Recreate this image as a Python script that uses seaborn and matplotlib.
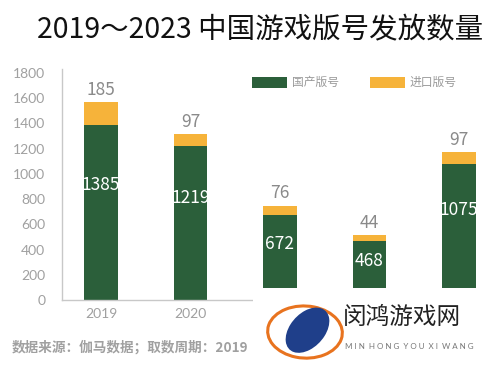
import matplotlib
matplotlib.use("Agg")
import matplotlib.pyplot as plt
from matplotlib.patches import Rectangle, Ellipse
import pandas as pd
import seaborn as sns

# data
years = ["2019", "2020", "2021", "2022", "2023"]
domestic = [1385, 1219, 672, 468, 1075]
imported = [185, 97, 76, 44, 97]
series_names = ["国产版号", "进口版号"]

GREEN = "#2b5f3a"
ORANGE = "#f6b33a"
GREY = "#9a9a9a"

sns.set_theme(style="white")
plt.rcParams['font.family'] = ['Noto Sans CJK SC', 'DejaVu Sans']

df = pd.DataFrame({"year": years, "domestic": domestic, "imported": imported})
df["total"] = df["domestic"] + df["imported"]

fig = plt.figure(figsize=(5.0, 3.71), dpi=100)
ax = fig.add_axes([0.124, 0.1914, 0.872, 0.6226])

sns.barplot(data=df, x="year", y="total", color=ORANGE, width=0.37,
            saturation=1, linewidth=0, ax=ax, label=series_names[1])
sns.barplot(data=df, x="year", y="domestic", color=GREEN, width=0.37,
            saturation=1, linewidth=0, ax=ax, label=series_names[0])

ax.set_xlim(-0.436, 4.436)
ax.set_ylim(0, 1830)
ax.set_yticks(range(0, 1801, 200))
ax.set_xlabel("")
ax.set_ylabel("")
ax.tick_params(axis="both", length=0, colors="#a0a0a0", labelsize=10)
ax.tick_params(axis="y", pad=12)
ax.tick_params(axis="x", pad=6)
for lbl in ax.get_yticklabels() + ax.get_xticklabels():
    lbl.set_family(["Lato", "DejaVu Sans"])
# the last three year labels sit under the watermark in the reference
for lbl in ax.get_xticklabels()[2:]:
    lbl.set_visible(False)
for s in ["top", "right"]:
    ax.spines[s].set_visible(False)
for s in ["left", "bottom"]:
    ax.spines[s].set_color("#c8c8c8")
    ax.spines[s].set_linewidth(1.0)

# value labels
for i, (d, im, t) in enumerate(zip(domestic, imported, df["total"])):
    ax.text(i, d * 0.66, str(d), ha="center", va="center", color="white", fontsize=12.5)
    ax.text(i, t + 25, str(im), ha="center", va="bottom", color="#8a8a8a", fontsize=12.5)

# legend
handles, labels = ax.get_legend_handles_labels()
leg = ax.legend(handles[::-1], labels[::-1], loc="center right", ncol=2, frameon=False,
                bbox_to_anchor=(0.93, 0.94), fontsize=8.5, handlelength=3.0,
                handleheight=1.1, columnspacing=2.6, handletextpad=0.4)
for txt in leg.get_texts():
    txt.set_color(GREY)

fig.text(0.52, 0.918, "2019～2023 中国游戏版号发放数量", ha="center", va="center",
         fontsize=20.5, fontweight="medium", color="#111111")
fig.text(0.024, 0.063, "数据来源：伽马数据；取数周期：2019", ha="left", va="center",
         fontsize=9.8, fontweight="bold", color="#a0a0a0")

# watermark block over the lower right
fig.patches.append(Rectangle((0.505, 0.0), 0.495, 0.225, transform=fig.transFigure,
                             facecolor="white", edgecolor="none", zorder=5))
fig.patches.append(Ellipse((0.61, 0.105), 0.15, 0.14, angle=-15, transform=fig.transFigure,
                           facecolor="none", edgecolor="#e8731f", linewidth=2.2, zorder=6))
fig.patches.append(Ellipse((0.615, 0.11), 0.075, 0.13, angle=-25, transform=fig.transFigure,
                           facecolor="#1f3f8a", edgecolor="none", zorder=7))
fig.text(0.685, 0.145, "闵鸿游戏网", ha="left", va="center", fontsize=17,
         fontweight="light", color="#222222", zorder=8)
fig.text(0.69, 0.065, "M I N  H O N G  Y O U  X I  W A N G", ha="left", va="center",
         fontsize=5.8, color="#777777", zorder=8, family=["Lato", "DejaVu Sans"])

fig.savefig("out.png", dpi=100)
